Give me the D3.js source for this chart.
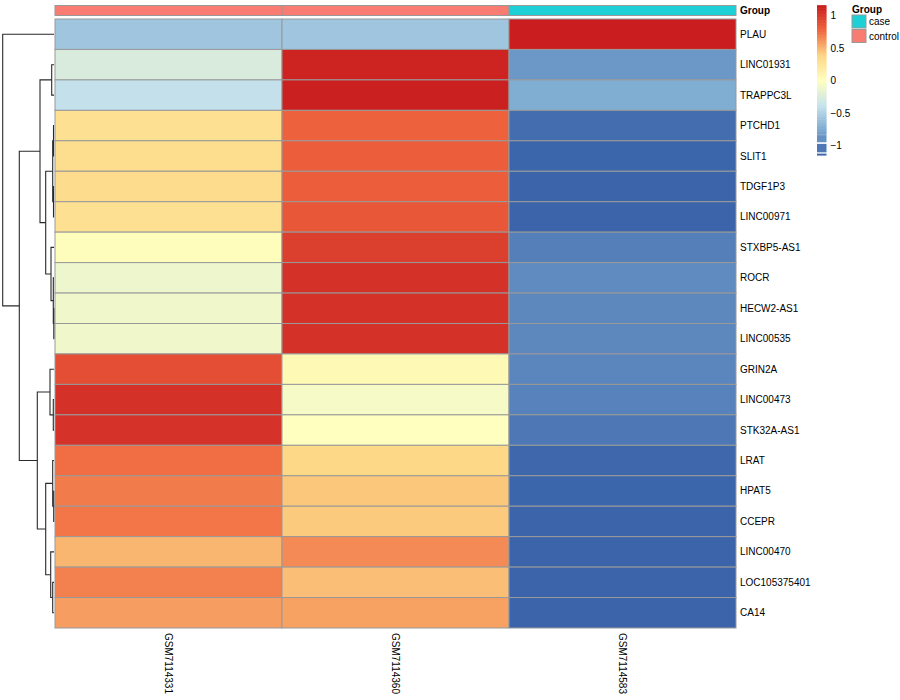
<!DOCTYPE html>
<html>
<head>
<meta charset="utf-8">
<script src="https://cdn.jsdelivr.net/npm/d3@7"></script>
<style>
  body { margin: 0; background: #fff; }
  svg { display: block; }
  text { font-family: "Liberation Sans", Arial, Helvetica, sans-serif; }
</style>
</head>
<body>
<svg id="chart" width="900" height="700"></svg>
<script>
// ---------------- data ----------------
const samples = ["GSM7114331", "GSM7114360", "GSM7114583"];
const sampleGroup = ["control", "control", "case"];
const groupLevels = ["case", "control"];
const groupColors = ["#1fcfd6", "#f97c73"];

const genes = ["PLAU", "LINC01931", "TRAPPC3L", "PTCHD1", "SLIT1", "TDGF1P3", "LINC00971",
  "STXBP5-AS1", "ROCR", "HECW2-AS1", "LINC00535", "GRIN2A", "LINC00473", "STK32A-AS1",
  "LRAT", "HPAT5", "CCEPR", "LINC00470", "LOC105375401", "CA14"];

// row-scaled (z-score) values, one array per sample column
const valsGSM7114331 = [-0.58, -0.26, -0.40, 0.30, 0.32, 0.33, 0.30, 0.02, -0.12, -0.10, -0.10,
  0.90, 1.05, 1.04, 0.75, 0.70, 0.72, 0.50, 0.68, 0.58];
const valsGSM7114360 = [-0.58, 1.12, 1.14, 0.80, 0.82, 0.82, 0.85, 0.98, 1.05, 1.05, 1.05,
  0.06, -0.07, 0.00, 0.38, 0.44, 0.43, 0.65, 0.47, 0.57];
const valsGSM7114583 = [1.155, -0.86, -0.74, -1.10, -1.14, -1.15, -1.15, -1.00, -0.93, -0.95, -0.95,
  -0.96, -0.98, -1.04, -1.13, -1.14, -1.15, -1.15, -1.15, -1.15];
const columnValues = [valsGSM7114331, valsGSM7114360, valsGSM7114583];

// row dendrogram merges: [left, right, height]; "#k" refers to merge k
const rowMerges = [
  ["PTCHD1", "SLIT1", 0.05],           // 0
  ["TDGF1P3", "LINC00971", 0.05],      // 1
  ["#0", "#1", 0.13],                  // 2
  ["HECW2-AS1", "LINC00535", 0.02],    // 3
  ["ROCR", "#3", 0.07],                // 4
  ["STXBP5-AS1", "#4", 0.30],          // 5
  ["#2", "#5", 0.83],                  // 6
  ["LINC01931", "TRAPPC3L", 0.23],     // 7
  ["#7", "#6", 1.40],                  // 8
  ["LINC00473", "STK32A-AS1", 0.07],   // 9
  ["GRIN2A", "#9", 0.40],              // 10
  ["HPAT5", "CCEPR", 0.03],            // 11
  ["LRAT", "#11", 0.13],               // 12
  ["LOC105375401", "CA14", 0.13],      // 13
  ["LINC00470", "#13", 0.33],          // 14
  ["#12", "#14", 0.83],                // 15
  ["#10", "#15", 1.67],                // 16
  ["#8", "#16", 3.47],                 // 17
  ["PLAU", "#17", 5.13]                // 18
];

const legendTicks = [-1, -0.5, 0, 0.5, 1];
const valueRange = [-1.155, 1.155];
const paletteColors = ["#3a63a9", "#7aa8d0", "#c6e2ec", "#ffffbf", "#fdd785", "#f0673f", "#c91d1f"];

// ---------------- drawing ----------------
const svg = d3.select("#chart");
const hmLeft = 55, hmRight = 736, hmTop = 19, hmBottom = 628;
const x = d3.scaleBand().domain(samples).range([hmLeft, hmRight]);
const y = d3.scaleBand().domain(genes).range([hmTop, hmBottom]);

const stopVals = paletteColors.map((c, i) => valueRange[0] + i * (valueRange[1] - valueRange[0]) / (paletteColors.length - 1));
const color = d3.scaleLinear().domain(stopVals).range(paletteColors).interpolate(d3.interpolateRgb).clamp(true);
const groupColor = d3.scaleOrdinal().domain(groupLevels).range(groupColors);

// cells
const cells = [];
samples.forEach((s, j) => genes.forEach((g, i) => cells.push({ s, g, v: columnValues[j][i] })));
svg.append("g").selectAll("rect").data(cells).join("rect")
  .attr("x", d => x(d.s)).attr("y", d => y(d.g))
  .attr("width", x.bandwidth()).attr("height", y.bandwidth())
  .attr("fill", d => color(d.v))
  .attr("stroke", "#999").attr("stroke-width", 1);

// column annotation
svg.append("g").selectAll("rect").data(samples).join("rect")
  .attr("x", d => x(d)).attr("y", 5.5)
  .attr("width", x.bandwidth()).attr("height", 10)
  .attr("fill", (d, i) => groupColor(sampleGroup[i]))
  .attr("stroke", "#999").attr("stroke-width", 1);
svg.append("text").attr("x", 740).attr("y", 10.5).attr("dy", "0.35em")
  .attr("font-size", 10).attr("font-weight", "bold").text("Group");

// row labels
svg.append("g").selectAll("text").data(genes).join("text")
  .attr("x", 740).attr("y", d => y(d) + y.bandwidth() / 2).attr("dy", "0.35em")
  .attr("font-size", 10).text(d => d);

// column labels (rotated)
svg.append("g").selectAll("text").data(samples).join("text")
  .attr("transform", d => `translate(${x(d) + x.bandwidth() / 2},${hmBottom + 5}) rotate(90)`)
  .attr("dy", "0.35em").attr("font-size", 10).text(d => d);

// dendrogram
const hScale = d3.scaleLinear().domain([0, d3.max(rowMerges, m => m[2])]).range([54, 2.7]);
const nodes = [];
function nodeInfo(ref) {
  if (typeof ref === "string" && ref.startsWith("#")) return nodes[+ref.slice(1)];
  return { y: y(ref) + y.bandwidth() / 2, h: 0 };
}
const dg = svg.append("g").attr("fill", "none").attr("stroke", "#2a2a2a").attr("stroke-width", 1.1);
rowMerges.forEach(([a, b, h]) => {
  const na = nodeInfo(a), nb = nodeInfo(b);
  const xn = hScale(h);
  dg.append("path").attr("d",
    `M${hScale(na.h)},${na.y}H${xn}V${nb.y}H${hScale(nb.h)}`);
  nodes.push({ y: (na.y + nb.y) / 2, h });
});

// color legend
const ly = d3.scaleLinear().domain([0, 1]).range([80.5, 15.5]);
const lgX = 817, lgW = 9.5;
const nSteps = 100;
const lg = svg.append("g");
const steps = d3.range(nSteps).map(i => valueRange[0] + (i + 0.5) * (valueRange[1] - valueRange[0]) / nSteps);
const stepH = (ly(valueRange[0]) - ly(valueRange[1])) / nSteps;
lg.selectAll("rect").data(steps.filter(v => ly(v) < 135)).join("rect")
  .attr("x", lgX).attr("y", d => ly(d) - stepH / 2 - 0.3).attr("width", lgW).attr("height", stepH + 0.6)
  .attr("fill", d => color(d));
// stepped blocks at the low end
const lowBlocks = [[-0.84, -0.95], [-0.975, -1.105], [-1.125, -1.155]];
lg.selectAll("rect.low").data(lowBlocks).join("rect").attr("class", "low")
  .attr("x", lgX).attr("y", d => ly(d[0])).attr("width", lgW)
  .attr("height", d => ly(d[1]) - ly(d[0]))
  .attr("fill", d => color((d[0] + d[1]) / 2));
lg.selectAll("text").data(legendTicks).join("text")
  .attr("x", 830.5).attr("y", d => ly(d)).attr("dy", "0.35em")
  .attr("font-size", 10).text(d => d3.format("")(d));

// group legend
const gl = svg.append("g");
gl.append("text").attr("x", 852).attr("y", 9).attr("dy", "0.35em")
  .attr("font-size", 10).attr("font-weight", "bold").text("Group");
gl.selectAll("rect").data(groupLevels).join("rect")
  .attr("x", 852).attr("y", (d, i) => 15 + i * 14.5).attr("width", 14).attr("height", 13)
  .attr("fill", d => groupColor(d)).attr("stroke", "#999").attr("stroke-width", 1);
gl.selectAll("text.lab").data(groupLevels).join("text").attr("class", "lab")
  .attr("x", 869).attr("y", (d, i) => 21.5 + i * 14.5).attr("dy", "0.35em")
  .attr("font-size", 10).text(d => d);
</script>
</body>
</html>
